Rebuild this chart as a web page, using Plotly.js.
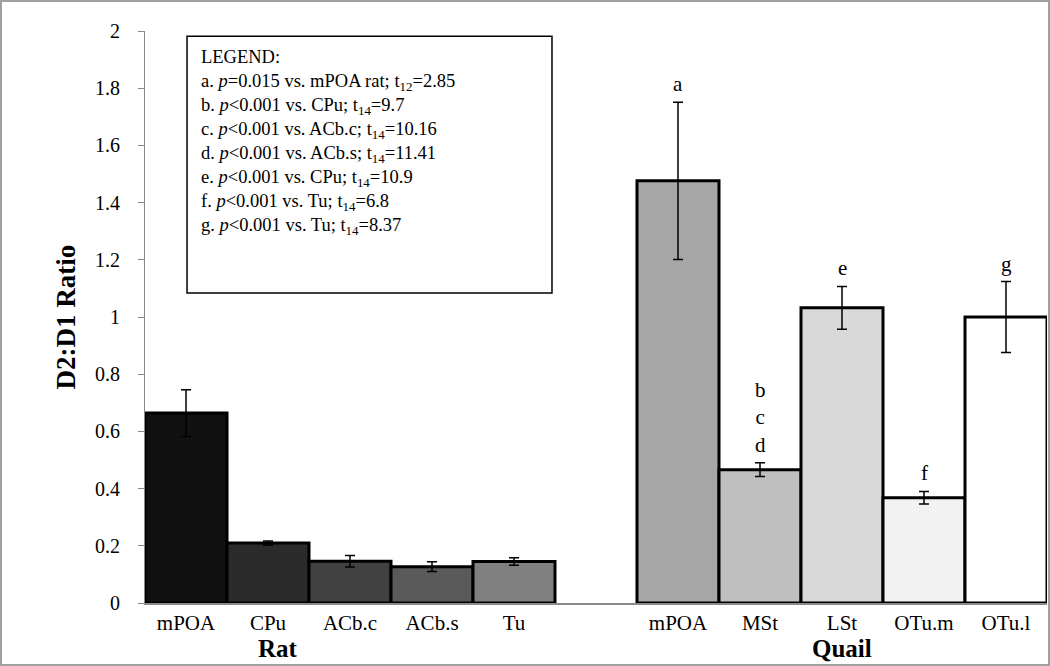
<!DOCTYPE html>
<html>
<head>
<meta charset="utf-8">
<script src="https://cdn.plot.ly/plotly-3.0.1.min.js"></script>
<style>
  html, body { margin: 0; padding: 0; background: #fff; }
  #wrap { position: relative; width: 1050px; height: 666px; }
  #plot { position: absolute; left: 0; top: 0; width: 1050px; height: 666px; }
  #frame { position: absolute; left: 0; top: 0; width: 1050px; height: 666px;
           box-sizing: border-box; border: 2px solid #a0a0a0; pointer-events: none; }
</style>
</head>
<body>
<div id="wrap"><div id="plot"></div><div id="frame"></div></div>
<script>
// ---- data ----
const ratCategories = ['mPOA', 'CPu', 'ACb.c', 'ACb.s', 'Tu'];
const ratValues     = [0.664, 0.210, 0.146, 0.127, 0.145];
const ratErrors     = [0.082, 0.007, 0.020, 0.017, 0.013];
const ratColors     = ['#111111', '#2b2b2b', '#414141', '#5a5a5a', '#808080'];

const quailCategories = ['mPOA', 'MSt', 'LSt', 'OTu.m', 'OTu.l'];
const quailValues     = [1.476, 0.466, 1.032, 0.368, 1.000];
const quailErrors     = [0.275, 0.024, 0.075, 0.022, 0.124];
const quailColors     = ['#a6a6a6', '#bfbfbf', '#d9d9d9', '#f2f2f2', '#ffffff'];
const quailLetters    = ['a', 'b<br>c<br>d', 'e', 'f', 'g'];

const groupLabels = ['Rat', 'Quail'];

const legendLines = [
  'LEGEND:',
  'a. <i>p</i>=0.015 vs. mPOA rat; t<sub>12</sub>=2.85',
  'b. <i>p</i>&lt;0.001 vs. CPu; t<sub>14</sub>=9.7',
  'c. <i>p</i>&lt;0.001 vs. ACb.c; t<sub>14</sub>=10.16',
  'd. <i>p</i>&lt;0.001 vs. ACb.s; t<sub>14</sub>=11.41',
  'e. <i>p</i>&lt;0.001 vs. CPu; t<sub>14</sub>=10.9',
  'f. <i>p</i>&lt;0.001 vs. Tu; t<sub>14</sub>=6.8',
  'g. <i>p</i>&lt;0.001 vs. Tu; t<sub>14</sub>=8.37'
];

const yTickVals = [0, 0.2, 0.4, 0.6, 0.8, 1, 1.2, 1.4, 1.6, 1.8, 2];

// ---- positions derived from the arrays ----
const ratX = ratCategories.map((_, i) => i);
const quailX = quailCategories.map((_, i) => i + ratCategories.length + 1);
const nSlots = ratCategories.length + 1 + quailCategories.length;

const FONT = 'Liberation Serif, Times New Roman, serif';

const traces = [
  {
    type: 'bar', x: ratX, y: ratValues, width: 1,
    marker: { color: ratColors, line: { color: '#000', width: 3 } },
    error_y: { type: 'data', array: ratErrors, visible: true, color: '#000', thickness: 1.5, width: 5 },
    hoverinfo: 'skip', showlegend: false
  },
  {
    type: 'bar', x: quailX, y: quailValues, width: 1,
    marker: { color: quailColors, line: { color: '#000', width: 3 } },
    error_y: { type: 'data', array: quailErrors, visible: true, color: '#000', thickness: 1.5, width: 5 },
    hoverinfo: 'skip', showlegend: false
  }
];

const annotations = [];
quailLetters.forEach((t, i) => {
  annotations.push({
    x: quailX[i], y: quailValues[i] + quailErrors[i], xref: 'x', yref: 'y',
    text: t, showarrow: false, yanchor: 'bottom', yshift: 4,
    font: { family: FONT, size: 21, color: '#000' }
  });
});
const groupLabelX = [
  ratX[1] + 0.12,
  (quailX[0] + quailX[quailX.length - 1]) / 2
];
groupLabels.forEach((g, i) => {
  annotations.push({
    x: groupLabelX[i], y: -0.079, xref: 'x', yref: 'paper',
    text: '<b>' + g + '</b>', showarrow: false, yanchor: 'middle',
    font: { family: FONT, size: 25, color: '#000' }
  });
});
annotations.push({
  x: 0.060, y: 0.975, xref: 'paper', yref: 'paper',
  text: legendLines.join('<br>'), showarrow: false,
  xanchor: 'left', yanchor: 'top', align: 'left',
  font: { family: FONT, size: 18.5, color: '#000' }
});

const layout = {
  width: 1050, height: 666,
  margin: { l: 145, r: 3, t: 31, b: 63, pad: 0 },
  paper_bgcolor: '#fff', plot_bgcolor: '#fff',
  barmode: 'overlay', bargap: 0,
  showlegend: false,
  font: { family: FONT, size: 20, color: '#000' },
  xaxis: {
    range: [-0.5, nSlots - 0.5],
    tickmode: 'array',
    tickvals: ratX.concat(quailX),
    ticktext: ratCategories.concat(quailCategories),
    ticks: '', showgrid: false, zeroline: false,
    showline: true, linecolor: '#8a8a8a', linewidth: 1.5,
    tickfont: { family: FONT, size: 21, color: '#000' },
    fixedrange: true
  },
  yaxis: {
    range: [0, 2],
    tickmode: 'array', tickvals: yTickVals,
    ticks: 'outside', ticklen: 6, tickcolor: '#8a8a8a', tickwidth: 1,
    ticklabelstandoff: 14,
    showgrid: false, zeroline: false,
    showline: true, linecolor: '#8a8a8a', linewidth: 1,
    tickfont: { family: FONT, size: 20, color: '#000' },
    title: { text: '<b>D2:D1 Ratio</b>', standoff: 11, font: { family: FONT, size: 27, color: '#000' } },
    fixedrange: true
  },
  shapes: [{
    type: 'rect', xref: 'paper', yref: 'paper',
    x0: 0.0466, x1: 0.4512, y0: 0.542, y1: 0.991,
    line: { color: '#000', width: 1.5 }, fillcolor: 'rgba(0,0,0,0)'
  }],
  annotations: annotations
};

Plotly.newPlot('plot', traces, layout, { displayModeBar: false, staticPlot: true });
</script>
</body>
</html>
